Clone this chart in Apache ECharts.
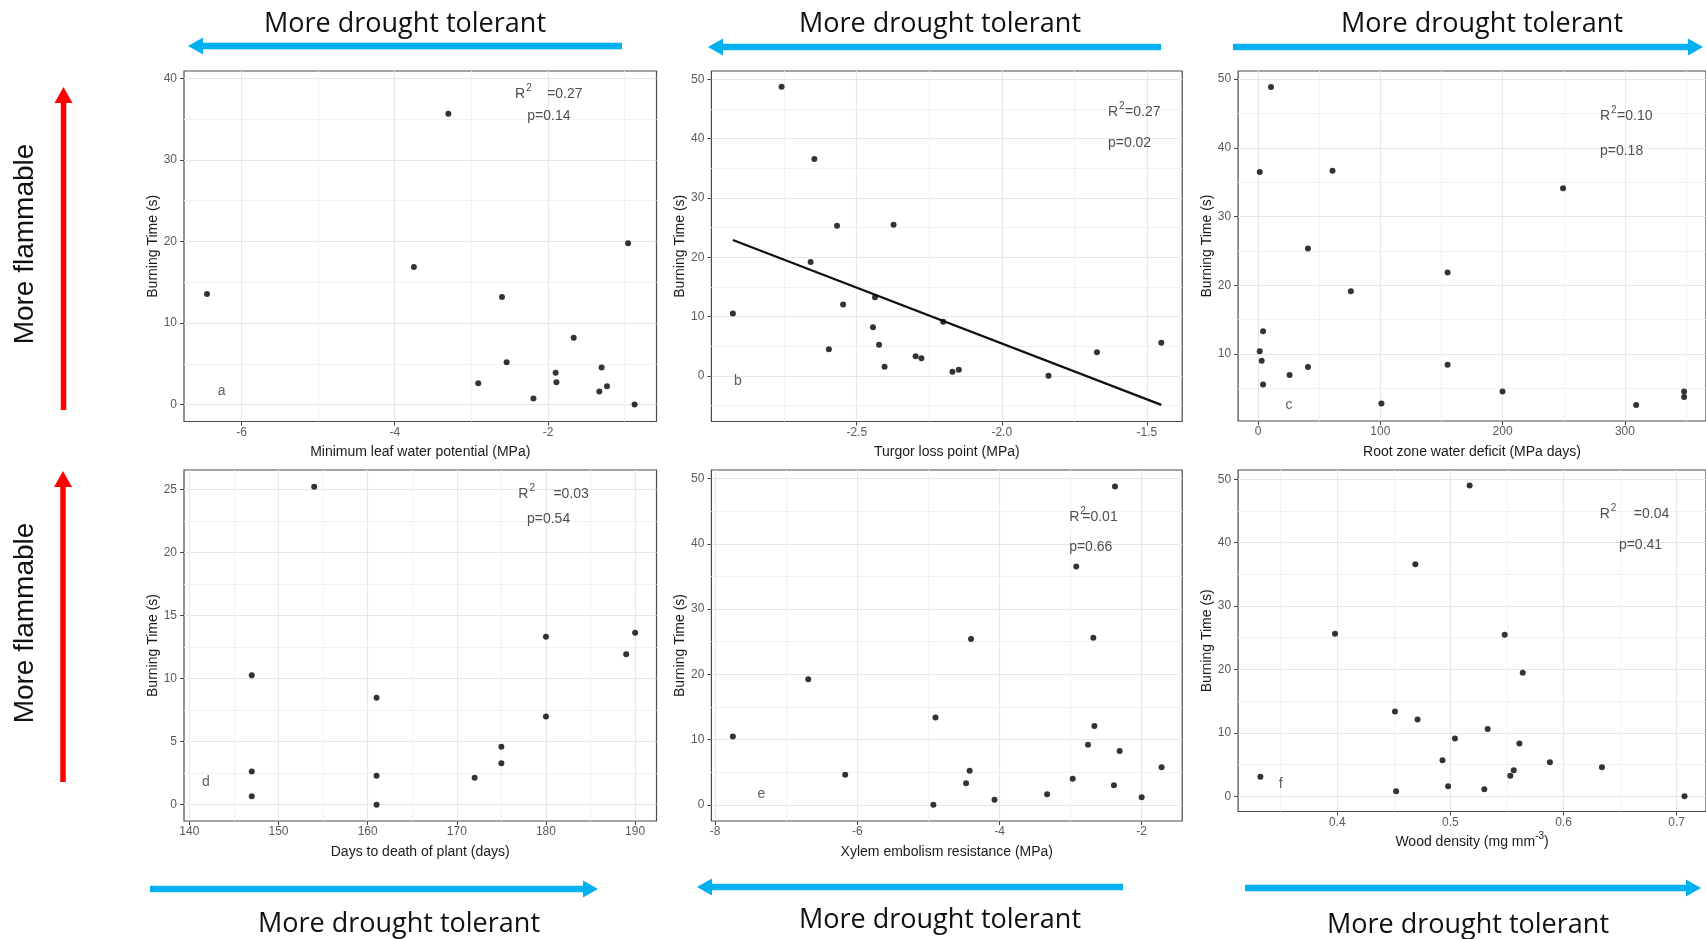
<!DOCTYPE html>
<html>
<head>
<meta charset="utf-8">
<script src="https://cdn.jsdelivr.net/npm/echarts@6/dist/echarts.min.js"></script>
<style>
  html, body { margin: 0; padding: 0; background: #ffffff; }
  #chart { width: 1706px; height: 939px; }
</style>
</head>
<body>
<div id="chart"></div>
<script>
// ---- Panel a: minimum leaf water potential vs burning time
const leafWP = [-6.45, -3.30, -3.75, -2.91, -2.60, -2.54, -2.19, -1.90, -1.89, -1.665, -1.30, -1.33, -1.23, -0.955, -0.87];
const burnA  = [13.55, 35.65, 16.87, 2.61, 13.18, 5.18, 0.75, 3.90, 2.74, 8.21, 4.56, 1.62, 2.24, 19.77, 0.0];

// ---- Panel b: turgor loss point vs burning time (with fitted line)
const tlp   = [-2.927, -2.759, -2.646, -2.568, -2.659, -2.547, -2.596, -2.437, -2.444, -2.423, -2.404, -2.373, -2.297, -2.277, -2.202, -2.170, -2.148, -1.839, -1.672, -1.450];
const burnB = [10.49, 48.75, 36.55, 25.31, 19.21, 12.03, 4.50, 13.23, 8.21, 5.25, 1.54, 25.48, 3.31, 2.96, 9.12, 0.68, 1.03, 0.0, 3.99, 5.59];
const tlpFitX = [-2.927, -1.450];
const tlpFitY = [22.92, -4.90];

// ---- Panel c: root zone water deficit vs burning time
const rootDeficit = [1.4, 10.6, 60.9, 40.8, 249.4, 155.0, 75.9, 4.1, 1.4, 3.0, 4.1, 25.8, 40.8, 155.0, 100.9, 199.9, 309.2, 348.4, 348.4];
const burnC       = [36.47, 48.87, 36.67, 25.35, 34.11, 21.86, 19.15, 13.30, 10.39, 9.02, 5.57, 6.95, 8.13, 8.43, 2.82, 4.54, 2.57, 4.54, 3.75];

// ---- Panel d: days to death of plant vs burning time
const daysToDeath = [147, 147, 147, 154, 161, 161, 161, 172, 175, 175, 180, 180, 189, 190];
const burnD       = [10.27, 2.63, 0.67, 25.24, 8.48, 2.31, 0.0, 2.15, 4.61, 3.30, 13.33, 7.00, 11.94, 13.65];

// ---- Panel e: xylem embolism resistance vs burning time
const xylemP50 = [-7.75, -6.69, -6.17, -4.93, -4.90, -4.47, -4.42, -4.40, -4.07, -3.33, -2.97, -2.92, -2.755, -2.68, -2.665, -2.39, -2.375, -2.31, -2.00, -1.72];
const burnE    = [10.47, 19.22, 4.61, 0.0, 13.37, 3.32, 5.23, 25.39, 0.78, 1.61, 3.99, 36.53, 9.22, 25.60, 12.07, 3.00, 48.76, 8.24, 1.14, 5.75];

// ---- Panel f: wood density vs burning time
const woodDensity = [0.332, 0.398, 0.451, 0.452, 0.469, 0.471, 0.493, 0.498, 0.504, 0.517, 0.530, 0.533, 0.548, 0.553, 0.556, 0.561, 0.564, 0.588, 0.634, 0.707];
const burnF       = [3.09, 25.64, 13.38, 0.80, 36.57, 12.10, 5.70, 1.60, 9.12, 48.99, 1.12, 10.61, 25.48, 3.25, 4.10, 8.32, 19.46, 5.38, 4.58, 0.0];

// ---- Tick values (major / minor) per panel
const xTicksA = [-6, -4, -2],            xMinorA = [-5, -3, -1];
const yTicksA = [0, 10, 20, 30, 40],     yMinorA = [5, 15, 25, 35];
const xTicksB = [-2.5, -2.0, -1.5],      xMinorB = [-2.75, -2.25, -1.75];
const yTicksB = [0, 10, 20, 30, 40, 50], yMinorB = [-5, 5, 15, 25, 35, 45];
const xTicksC = [0, 100, 200, 300],      xMinorC = [50, 150, 250, 350];
const yTicksC = [10, 20, 30, 40, 50],    yMinorC = [5, 15, 25, 35, 45];
const xTicksD = [140, 150, 160, 170, 180, 190], xMinorD = [145, 155, 165, 175, 185];
const yTicksD = [0, 5, 10, 15, 20, 25],  yMinorD = [2.5, 7.5, 12.5, 17.5, 22.5];
const xTicksE = [-8, -6, -4, -2],        xMinorE = [-7, -5, -3];
const yTicksE = [0, 10, 20, 30, 40, 50], yMinorE = [5, 15, 25, 35, 45];
const xTicksF = [0.4, 0.5, 0.6, 0.7],    xMinorF = [0.35, 0.45, 0.55, 0.65];
const yTicksF = [0, 10, 20, 30, 40, 50], yMinorF = [5, 15, 25, 35, 45];

// ---- Statistics text and panel letters
const panelLetters = ['a', 'b', 'c', 'd', 'e', 'f'];
const r2Values = ['0.27', '0.27', '0.10', '0.03', '0.01', '0.04'];
const pValues  = ['0.14', '0.02', '0.18', '0.54', '0.66', '0.41'];
const xTitles  = [
  '{n|Minimum leaf water potential (MPa)}',
  '{n|Turgor loss point (MPa)}',
  '{n|Root zone water deficit (MPa days)}',
  '{n|Days to death of plant (days)}',
  '{n|Xylem embolism resistance (MPa)}',
  '{n|Wood density (mg mm}{sup|-3}{n|)}'
];
const yTitle = 'Burning Time (s)';
const arrowCaption = 'More drought tolerant';
const sideCaption = 'More flammable';

const FONT = 'Liberation Sans, Arial, sans-serif';
const chart = echarts.init(document.getElementById('chart'));

const grids = [], xAxes = [], yAxes = [], series = [];

function panel(p) {
  const gi = grids.length;
  grids.push({
    left: p.box[0], top: p.box[1], width: p.box[2], height: p.box[3],
    show: true, borderColor: '#4a4a4a', borderWidth: 1.2, backgroundColor: 'transparent',
    containLabel: false
  });
  const fmt = p.fmt || (v => String(v));
  // main x axis: ticks, labels, major grid lines
  xAxes.push({
    type: 'value', gridIndex: gi, position: 'bottom', min: p.xr[0], max: p.xr[1],
    axisLine: { show: false, onZero: false },
    axisTick: { show: true, length: 4, lineStyle: { color: '#444' }, customValues: p.xt },
    axisLabel: { show: true, customValues: p.xt, formatter: fmt, color: '#5a5a5a', fontSize: 12, margin: 5, fontFamily: FONT },
    splitLine: { show: true, lineStyle: { color: '#e8e8e8', width: 1.2 } },
    name: p.xName, nameLocation: 'middle', nameGap: 20,
    nameTextStyle: { color: '#1a1a1a', fontSize: 14, fontFamily: FONT,
      rich: {
        n: { fontSize: 14, fontFamily: FONT, color: '#1a1a1a', lineHeight: 18, verticalAlign: 'bottom' },
        sup: { fontSize: 10, fontFamily: FONT, color: '#1a1a1a', lineHeight: 8, verticalAlign: 'top' }
      } }
  });
  // companion x axis carrying only the minor grid lines
  xAxes.push({
    type: 'value', gridIndex: gi, position: 'top', min: p.xr[0], max: p.xr[1],
    axisLine: { show: false, onZero: false }, axisLabel: { show: false },
    axisTick: { show: false, customValues: p.xm },
    splitLine: { show: true, lineStyle: { color: '#f2f2f2', width: 1 } }
  });
  yAxes.push({
    type: 'value', gridIndex: gi, position: 'left', min: p.yr[0], max: p.yr[1],
    axisLine: { show: false, onZero: false },
    axisTick: { show: true, length: 4, lineStyle: { color: '#444' }, customValues: p.yt },
    axisLabel: { show: true, customValues: p.yt, color: '#5a5a5a', fontSize: 12, margin: 7, fontFamily: FONT },
    splitLine: { show: true, lineStyle: { color: '#e8e8e8', width: 1.2 } },
    name: yTitle, nameLocation: 'middle', nameGap: 23,
    nameTextStyle: { color: '#1a1a1a', fontSize: 14, fontFamily: FONT }
  });
  yAxes.push({
    type: 'value', gridIndex: gi, position: 'right', min: p.yr[0], max: p.yr[1],
    axisLine: { show: false, onZero: false }, axisLabel: { show: false },
    axisTick: { show: false, customValues: p.ym },
    splitLine: { show: true, lineStyle: { color: '#f2f2f2', width: 1 } }
  });
  const xi = 2 * gi, yi = 2 * gi;
  series.push({
    type: 'scatter', xAxisIndex: xi, yAxisIndex: yi, symbolSize: 6,
    itemStyle: { color: '#000' }, silent: true, z: 5,
    data: p.x.map((v, k) => [v, p.y[k]])
  });
  if (p.fitX) {
    series.push({
      type: 'line', xAxisIndex: xi, yAxisIndex: yi, showSymbol: false, silent: true, z: 4,
      lineStyle: { color: '#111', width: 2.2 },
      data: p.fitX.map((v, k) => [v, p.fitY[k]])
    });
  }
  // R² / p annotations, left edge anchored at data coordinates
  series.push({
    type: 'scatter', xAxisIndex: xi, yAxisIndex: yi, symbolSize: 0, silent: true, z: 6,
    data: [
      { value: p.r2Pos, label: { formatter: '{t|R}{s|2}{t|=' + r2Values[gi] + '}' } },
      { value: p.pPos, label: { formatter: '{t|p=' + pValues[gi] + '}' } }
    ],
    label: {
      show: true, position: 'right', distance: 0,
      rich: {
        t: { fontSize: 14, fontFamily: FONT, color: '#222', lineHeight: 18, verticalAlign: 'bottom' },
        s: { fontSize: 10, fontFamily: FONT, color: '#222', width: p.supW, align: 'left',
             lineHeight: 8, verticalAlign: 'top', padding: [0, 0, 0, 1] }
      }
    }
  });
  series.push({
    type: 'scatter', xAxisIndex: xi, yAxisIndex: yi, symbolSize: 0, silent: true, z: 6,
    data: [p.letterPos],
    label: { show: true, position: 'inside', formatter: panelLetters[gi],
             fontSize: 14, fontFamily: FONT, color: '#333' }
  });
}

panel({ box: [184, 71, 472.5, 350.5], xr: [-6.75, -0.584], yr: [-2.07, 40.9],
  xt: xTicksA, xm: xMinorA, yt: yTicksA, ym: yMinorA, x: leafWP, y: burnA, xName: xTitles[0],
  r2Pos: [-2.43, 38.3], pPos: [-2.27, 35.65], letterPos: [-6.26, 1.66], supW: 21 });
panel({ box: [711.4, 71, 470.8, 350.5], xr: [-3.001, -1.378], yr: [-7.7, 51.4],
  xt: xTicksB, xm: xMinorB, yt: yTicksB, ym: yMinorB, x: tlp, y: burnB, xName: xTitles[1],
  fmt: v => v.toFixed(1), fitX: tlpFitX, fitY: tlpFitY,
  r2Pos: [-1.634, 44.75], pPos: [-1.634, 39.6], letterPos: [-2.91, -0.86], supW: 6 });
panel({ box: [1238.1, 71, 475.4, 350], xr: [-16.3, 366.3], yr: [0.26, 51.18],
  xt: xTicksC, xm: xMinorC, yt: yTicksC, ym: yMinorC, x: rootDeficit, y: burnC, xName: xTitles[2],
  r2Pos: [279.6, 44.93], pPos: [279.6, 39.77], letterPos: [25.3, 2.52], supW: 6 });
panel({ box: [184, 470, 472.5, 351], xr: [139.4, 192.4], yr: [-1.29, 26.56],
  xt: xTicksD, xm: xMinorD, yt: yTicksD, ym: yMinorD, x: daysToDeath, y: burnD, xName: xTitles[3],
  r2Pos: [176.9, 24.81], pPos: [177.87, 22.8], letterPos: [141.86, 1.82], supW: 24 });
panel({ box: [711.4, 470, 470.8, 351], xr: [-8.052, -1.43], yr: [-2.48, 51.3],
  xt: xTicksE, xm: xMinorE, yt: yTicksE, ym: yMinorE, x: xylemP50, y: burnE, xName: xTitles[4],
  r2Pos: [-3.02, 44.4], pPos: [-3.02, 39.8], letterPos: [-7.35, 1.71], supW: 2 });
panel({ box: [1238.1, 470, 475.4, 341.5], xr: [0.3123, 0.726], yr: [-2.40, 51.45],
  xt: xTicksF, xm: xMinorF, yt: yTicksF, ym: yMinorF, x: woodDensity, y: burnF, xName: xTitles[5],
  fmt: v => v.toFixed(1),
  r2Pos: [0.632, 44.78], pPos: [0.649, 39.98], letterPos: [0.35, 1.87], supW: 23 });

// ---- Direction arrows and captions around the panels
function arrow(tail, tip, color, shaft, headLen, headHalf) {
  const dx = tip[0] - tail[0], dy = tip[1] - tail[1];
  const len = Math.hypot(dx, dy), ux = dx / len, uy = dy / len;
  const bx = tip[0] - ux * headLen, by = tip[1] - uy * headLen;
  const px = -uy, py = ux;
  return [
    { type: 'line', silent: true,
      shape: { x1: tail[0], y1: tail[1], x2: bx + ux, y2: by + uy },
      style: { stroke: color, lineWidth: shaft } },
    { type: 'polygon', silent: true,
      shape: { points: [tip, [bx + px * headHalf, by + py * headHalf], [bx - px * headHalf, by - py * headHalf]] },
      style: { fill: color } }
  ];
}
const BLUE = '#00B0F0', RED = '#FF0000';
const blueArrows = [
  [[622, 46], [188, 46]],
  [[1161, 47], [708, 47]],
  [[1233, 47], [1703, 47]],
  [[150, 889], [598, 889]],
  [[1123, 887], [697, 887]],
  [[1245, 888], [1701, 888]]
];
const captionPos = [[405, 24], [940, 24], [1482, 24], [399, 924], [940, 920], [1468, 925]];
const redArrows = [[[63.5, 410], [63.5, 87]], [[63, 782], [63, 471]]];
const sidePos = [[25, 244], [25, 623]];

const graphics = [];
blueArrows.forEach(a => graphics.push(...arrow(a[0], a[1], BLUE, 6.5, 15, 8.5)));
redArrows.forEach(a => graphics.push(...arrow(a[0], a[1], RED, 5.5, 16, 9)));
captionPos.forEach(c => graphics.push({
  type: 'text', x: c[0], y: c[1], silent: true,
  style: { text: arrowCaption, fontSize: 27, fontFamily: 'Open Sans, sans-serif', fill: '#111',
           align: 'center', verticalAlign: 'middle' }
}));
sidePos.forEach(c => graphics.push({
  type: 'text', x: c[0], y: c[1], rotation: Math.PI / 2, silent: true,
  style: { text: sideCaption, fontSize: 28, fontFamily: FONT, fill: '#111',
           align: 'center', verticalAlign: 'middle' }
}));

chart.setOption({
  animation: false,
  backgroundColor: '#ffffff',
  textStyle: { fontFamily: FONT },
  grid: grids,
  xAxis: xAxes,
  yAxis: yAxes,
  series: series,
  graphic: graphics
});
</script>
</body>
</html>
